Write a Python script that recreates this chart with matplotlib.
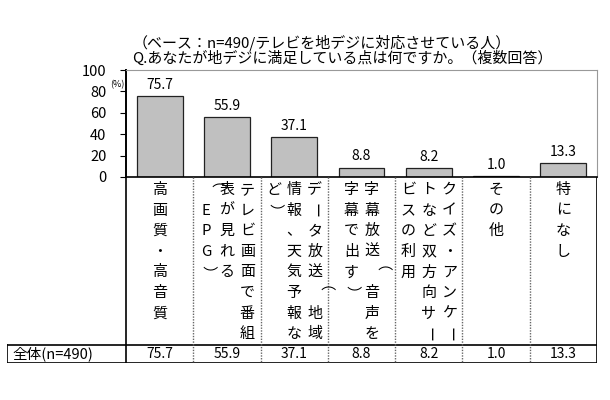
import numpy as np
import matplotlib
matplotlib.use("Agg")
import matplotlib.pyplot as plt

plt.rcParams['font.family'] = ['Noto Sans CJK JP', 'DejaVu Sans']

# データ
title1 = "（ベース：n=490/テレビを地デジに対応させている人）"
title2 = "Q.あなたが地デジに満足している点は何ですか。（複数回答）"
labels = ["高画質・高音質",
          "テレビ画面で番組\n表が見れる\n（EPG）",
          "データ放送（地域\n情報、天気予報な\nど）",
          "字幕放送（音声を\n字幕で出す）",
          "クイズ・アンケー\nトなど双方向サー\nビスの利用",
          "その他",
          "特になし"]
values = [75.7, 55.9, 37.1, 8.8, 8.2, 1.0, 13.3]
row_label = "全体(n=490)"
yticks = [0, 20, 40, 60, 80, 100]

W, H = 610, 400
fig = plt.figure(figsize=(6.1, 4.0), dpi=100)

# 棒グラフ部分 (ピクセル位置)
x0, x1 = 126, 597
y_top, y_zero = 70, 177
ax = fig.add_axes([x0 / W, 1 - y_zero / H, (x1 - x0) / W, (y_zero - y_top) / H])
x = np.arange(len(values))
ax.bar(x, values, width=0.68, color='#c0c0c0', edgecolor='#222222', linewidth=0.9)
ax.set_xlim(-0.5, len(values) - 0.5)
ax.set_ylim(0, 100)
ax.set_yticks(yticks)
ax.tick_params(axis='y', direction='out', length=4, labelsize=10.5, pad=10)
ax.set_xticks([])
for s in ['top', 'right']:
    ax.spines[s].set_color('#999999')
ax.spines['left'].set_linewidth(1.4)
ax.spines['bottom'].set_linewidth(1.2)
for i, v in enumerate(values):
    ax.annotate(f"{v:.1f}", (i, v), xytext=(0, 3), textcoords='offset points',
                ha='center', va='bottom', fontsize=10)
ax.text(-0.019, 0.86, "(%)", transform=ax.transAxes, ha='center', va='center', fontsize=6.5)

fig.text(133 / W, 1 - 43 / H, title1, ha='left', va='center', fontsize=10.8)
fig.text(132 / W, 1 - 58 / H, title2, ha='left', va='center', fontsize=10.8)

# 下の表部分
tx0, ty1 = 7, 363
col_w = (x1 - x0) / len(values)
left = -0.5 - (x0 - tx0) / col_w
axt = fig.add_axes([tx0 / W, 1 - ty1 / H, (x1 - tx0) / W, (ty1 - y_zero) / H])
axt.set_xlim(left, len(values) - 0.5)
axt.set_ylim(ty1, y_zero)
axt.axis('off')

row_top = 345
dot = (0, (1, 1))
axt.plot([-0.5, -0.5], [y_zero, ty1], color='black', lw=1.2)
axt.plot([len(values) - 0.5] * 2, [y_zero, ty1], color='black', lw=1.2)
axt.plot([left, left], [row_top, ty1], color='black', lw=1.2)
axt.plot([left, len(values) - 0.5], [row_top, row_top], color='black', lw=1.2)
axt.plot([left, len(values) - 0.5], [ty1, ty1], color='black', lw=1.2)
for b in np.arange(0.5, len(values) - 0.5):
    axt.plot([b, b], [y_zero, ty1], color='#666666', lw=1, linestyle=dot)

dx = 20.5 / col_w
dy = 20.6
rot = {'ー': -90, '（': -90, '）': -90}
for i, lab in enumerate(labels):
    cols = lab.split('\n')
    n = len(cols)
    for k, col in enumerate(cols):
        cx = i + (n - 1) / 2 * dx - k * dx
        for j, ch in enumerate(col):
            axt.text(cx, 190 + j * dy, ch, ha='center', va='center',
                     fontsize=10.8, rotation=rot.get(ch, 0))

row_y = (row_top + ty1) / 2
axt.text(left + 5 / col_w, row_y, row_label, ha='left', va='center', fontsize=10.5)
for i, v in enumerate(values):
    axt.text(i, row_y, f"{v:.1f}", ha='center', va='center', fontsize=10)

fig.savefig("out.png", dpi=100)
